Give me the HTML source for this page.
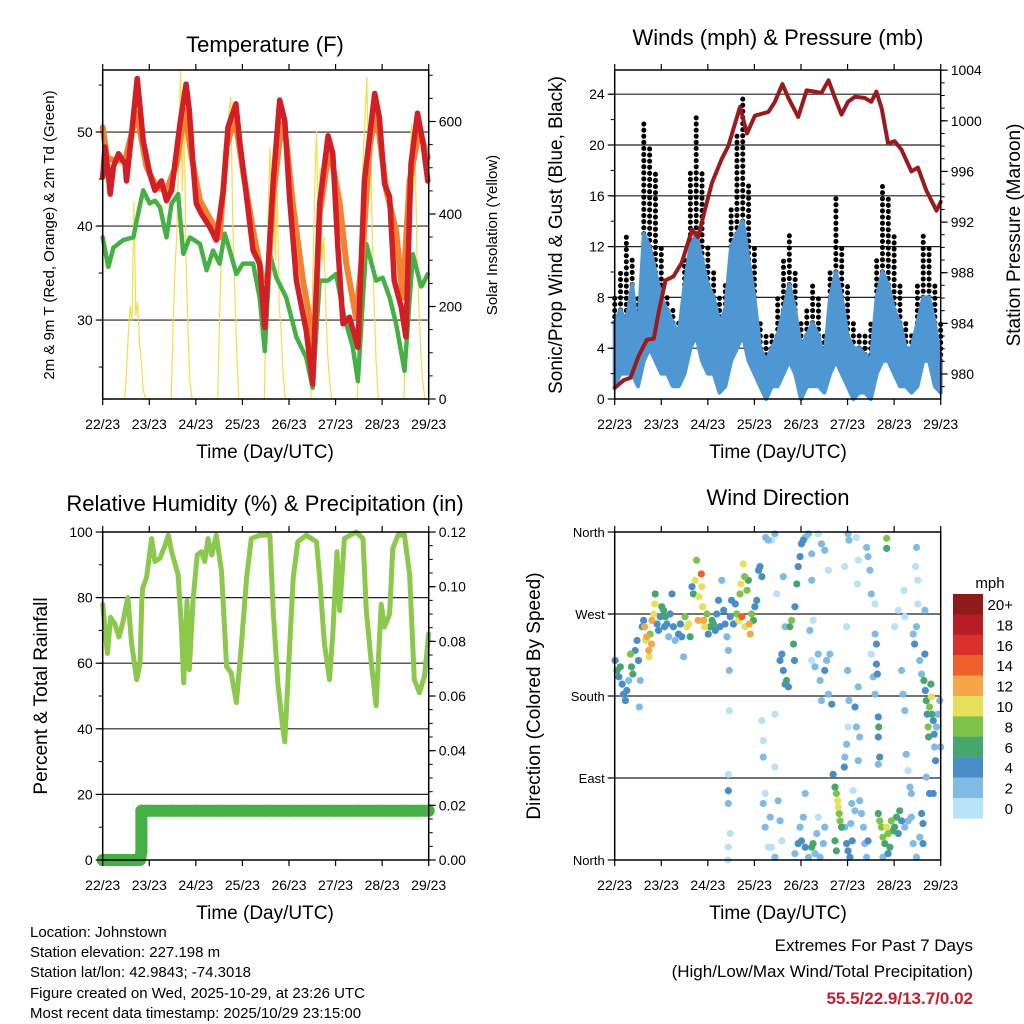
<!DOCTYPE html>
<html><head><meta charset="utf-8">
<style>
html,body{margin:0;padding:0;background:#fff;}
svg{display:block;font-family:"Liberation Sans",Arial,sans-serif;}
</style></head>
<body>
<svg id="chart" width="1024" height="1024" viewBox="0 0 1024 1024" xmlns="http://www.w3.org/2000/svg">
<rect width="1024" height="1024" fill="#fff"/>
<g id="layer-grid"></g>
<g id="layer-data"></g>
<g id="layer-axes"></g>
<g id="layer-text">
<text x="265" y="52" font-size="22" text-anchor="middle">Temperature (F)</text>
<text x="778" y="45" font-size="22" text-anchor="middle">Winds (mph) &amp; Pressure (mb)</text>
<text x="265" y="511" font-size="22" text-anchor="middle">Relative Humidity (%) &amp; Precipitation (in)</text>
<text x="778" y="505" font-size="22" text-anchor="middle">Wind Direction</text>
<text x="265" y="458" font-size="19" text-anchor="middle">Time (Day/UTC)</text>
<text x="778" y="458" font-size="19" text-anchor="middle">Time (Day/UTC)</text>
<text x="265" y="919" font-size="19" text-anchor="middle">Time (Day/UTC)</text>
<text x="778" y="919" font-size="19" text-anchor="middle">Time (Day/UTC)</text>
<text transform="translate(54,235) rotate(-90)" font-size="15" text-anchor="middle">2m &amp; 9m T (Red, Orange) &amp; 2m Td (Green)</text>
<text transform="translate(497,235) rotate(-90)" font-size="15" text-anchor="middle">Solar Insolation (Yellow)</text>
<text transform="translate(562,235) rotate(-90)" font-size="19" text-anchor="middle">Sonic/Prop Wind &amp; Gust (Blue, Black)</text>
<text transform="translate(1020,235) rotate(-90)" font-size="19" text-anchor="middle">Station Pressure (Maroon)</text>
<text transform="translate(47,696) rotate(-90)" font-size="19" text-anchor="middle">Percent &amp; Total Rainfall</text>
<text transform="translate(540,696) rotate(-90)" font-size="19" text-anchor="middle">Direction (Colored By Speed)</text>
<g font-size="15">
<text x="30" y="937">Location: Johnstown</text>
<text x="30" y="957">Station elevation: 227.198 m</text>
<text x="30" y="977">Station lat/lon: 42.9843; -74.3018</text>
<text x="30" y="998">Figure created on Wed, 2025-10-29, at 23:26 UTC</text>
<text x="30" y="1018">Most recent data timestamp: 2025/10/29 23:15:00</text>
</g>
<g font-size="17" text-anchor="end">
<text x="973" y="951">Extremes For Past 7 Days</text>
<text x="973" y="977">(High/Low/Max Wind/Total Precipitation)</text>
<text x="973" y="1004" fill="#c62030" font-weight="bold">55.5/22.9/13.7/0.02</text>
</g>
<text x="990" y="588" font-size="15" text-anchor="middle">mph</text>
</g>
</svg>
<script>
// ---------- DATA ----------
const dayLabels = ["22/23","23/23","24/23","25/23","26/23","27/23","28/23","29/23"];
// Temperature (F)
const t2mTimes = [0,.05,.12,.16,.23,.34,.48,.51,.62,.74,.80,.87,1.01,1.12,1.26,1.37,1.48,1.66,1.79,1.86,1.94,2.01,2.12,2.30,2.44,2.59,2.69,2.86,2.94,3.09,3.23,3.37,3.48,3.55,3.66,3.80,3.91,4.01,4.16,4.37,4.51,4.66,4.84,4.94,5.05,5.16,5.30,5.48,5.62,5.84,5.94,6.05,6.16,6.26,6.41,6.51,6.62,6.76,6.87,6.98];
const t2mVals = [45.2,48.4,45.6,43.4,46.3,47.7,46.6,44.8,49.8,55.7,52.7,49.1,45.6,43.8,44.8,42.7,43.8,50.9,55.1,52.3,46.6,42.4,41.3,39.9,38.5,43.8,50.5,53.0,49.1,43.1,37.4,36.0,29.2,35.3,44.8,53.4,51.2,43.1,34.2,28.9,23.2,42.4,49.6,47.7,37.7,29.6,30.3,27.1,44.8,54.1,51.6,44.5,43.1,34.2,31.4,28.2,46.6,52.0,49.1,44.8];
const t9mTimes = [0,.09,.23,.48,.73,.94,1.16,1.37,1.59,1.76,1.91,2.09,2.37,2.51,2.66,2.84,3.01,3.23,3.44,3.55,3.66,3.84,3.94,4.09,4.30,4.44,4.51,4.66,4.87,5.09,5.23,5.44,5.59,5.73,5.87,6.09,6.30,6.44,6.59,6.80,6.98];
const t9mVals = [50.5,47.3,47.0,47.0,52.0,46.3,44.1,43.8,46.6,52.3,47.3,42.7,40.2,38.8,48.4,51.6,45.9,39.5,34.2,34.5,43.1,50.9,49.1,42.0,34.2,30.3,23.9,41.3,48.4,42.4,36.0,30.3,37.7,48.4,52.3,43.8,39.5,32.4,44.8,50.2,47.3];
const tdTimes = [0,.12,.23,.44,.66,.76,.87,1.01,1.12,1.23,1.37,1.48,1.62,1.73,1.87,2.09,2.23,2.37,2.51,2.62,2.73,2.87,3.01,3.23,3.37,3.48,3.59,3.73,3.94,4.16,4.37,4.51,4.66,4.84,5.01,5.19,5.37,5.48,5.66,5.87,6.01,6.16,6.30,6.48,6.66,6.84,6.98];
const tdVals = [38.8,35.6,37.7,38.5,38.8,41.3,43.8,42.4,42.7,42.0,38.8,42.4,43.4,37.0,38.8,38.1,35.3,37.4,36.0,39.2,37.4,34.9,36.0,36.0,32.4,26.7,37.0,34.5,32.4,28.2,26.0,22.8,34.2,34.2,34.9,30.3,27.1,23.5,38.1,34.2,34.5,32.4,29.6,24.6,37.0,33.5,34.9];
// Solar insolation: daylight fractions and daily values
const solarFracs = [0.47,0.51,0.55,0.59,0.63,0.67,0.71,0.75,0.79,0.83,0.87,0.92];
const solarDays = [
 [0,60,140,200,170,427,180,210,120,80,20,0],
 [0,150,280,350,520,708,450,600,300,150,40,0],
 [0,180,330,450,560,500,620,652,400,250,120,0],
 [0,200,380,543,420,500,300,450,200,150,60,0],
 [0,250,450,578,380,500,300,350,200,100,40,0],
 [0,220,400,520,600,695,480,560,350,200,80,0],
 [0,200,380,500,593,450,520,300,200,100,40,0]];
// Winds (mph), 3-hourly
const windTimes = [0,.125,.25,.375,.5,.625,.75,.875,1,1.125,1.25,1.375,1.5,1.625,1.75,1.875,2,2.125,2.25,2.375,2.5,2.625,2.75,2.875,3,3.125,3.25,3.375,3.5,3.625,3.75,3.875,4,4.125,4.25,4.375,4.5,4.625,4.75,4.875,5,5.125,5.25,5.375,5.5,5.625,5.75,5.875,6,6.125,6.25,6.375,6.5,6.625,6.75,6.875,7];
const windLo = [1,2,2,2,1,3,4,3,2,2,1,1,2,4,5,3,2,2,0.5,1,3,4,5,3,2,1,0,1,1,2,3,2,0,1,1,1,0.5,2,3,2,1,0,0.5,0.5,0,2,3,3,2,1,1,0.5,1,3,3,1,0.5];
const windHi = [6,7,6,9,5,13,12,10,8,7,6,5,9,12,13,11,9,8,6,7,12,13,14,11,8,4,3,4,5,7,9,7,4,5,6,5,3,8,10,8,5,4,4,3.5,3,8,10,9,7,6,4,4,6,8,8,6,3];
const gustHi = [8,10,13,11,8,22,20,18,12,8,7,6,11,18,22.6,18,12,10,8,9,15,21,24,17,12,6,5,5,8,11,13,10,6,7,9,8,5,10,16,12,9,6,5,5,6,11,17,16,13,9,6,5,9,13,12,9,6];
// Pressure (mb)
const presTimes = [0,.19,.34,.51,.69,.84,.94,1.09,1.26,1.44,1.66,1.79,1.94,2.09,2.30,2.44,2.69,2.84,3.01,3.30,3.44,3.60,3.73,3.94,4.12,4.30,4.44,4.59,4.73,4.87,5.01,5.16,5.37,5.51,5.62,5.73,5.87,6.01,6.16,6.37,6.51,6.69,6.91,7.0];
const presVals = [978.9,979.5,979.7,981.4,982.7,982.8,984.8,987.4,987.7,988.8,991.4,990.8,993.0,995.1,997.0,998.0,1001.1,999.0,1000.4,1000.7,1001.5,1002.9,1001.8,1000.3,1002.4,1002.3,1002.2,1003.2,1001.8,1000.5,1001.5,1001.9,1001.8,1001.5,1002.3,1001.0,998.2,998.4,997.7,996.0,996.3,994.5,992.9,993.6];
// Relative humidity (%)
const rhTimes = [0,.10,.17,.26,.35,.44,.54,.62,.73,.80,.84,.86,.94,1.05,1.12,1.23,1.34,1.41,1.48,1.62,1.69,1.74,1.81,1.86,1.94,2.03,2.12,2.19,2.26,2.34,2.44,2.55,2.66,2.76,2.87,2.98,3.09,3.19,3.37,3.59,3.66,3.76,3.87,3.91,3.98,4.09,4.19,4.37,4.59,4.66,4.76,4.87,4.94,5.03,5.09,5.19,5.44,5.59,5.66,5.76,5.87,5.98,6.05,6.16,6.23,6.34,6.48,6.59,6.69,6.80,6.91,7.0];
const rhVals = [78,63,74,72,68,73,80,66,55,60,79,83,86,98,91,92,96,99,94,87,71,54,79,58,79,93,94,91,98,93,99,88,59,57,48,66,86,98,99,99,76,54,40,36,56,86,97,99,97,86,66,55,69,94,76,98,100,98,76,61,47,78,71,75,95,99,99,87,55,51,56,69];
// Precipitation (in)
const precipTimes = [0,.1,.2,.3,.4,.5,.6,.7,.8,.83,.83,.83,.83,.9,1,1.5,2,2.5,3,3.5,4,4.5,5,5.5,6,6.5,7];
const precipVals = [0,0,0,0,0,0,0,0,0,.003,.0075,.0135,.018,.018,.018,.018,.018,.018,.018,.018,.018,.018,.018,.018,.018,.018,.018];
// Wind direction: [day, degrees, speed mph]
const dirObs = [
[.01,219,4],[.05,208,6],[.09,201,4],[.12,212,6],[.16,193,4],[.19,182,4],[.23,175,4],[.26,186,4],[.30,197,2],[.34,226,8],[.36,212,6],[.39,204,6],[.44,230,4],[.48,241,4],[.51,219,4],[.55,197,2],[.53,168,2],[.59,256,4],[.62,263,4],[.64,256,12],[.66,241,10],[.69,245,12],[.73,230,12],[.74,223,10],[.76,248,8],[.79,237,12],[.80,263,12],[.84,270,10],[.86,281,10],[.87,292,6],[.91,259,4],[.94,252,4],[.98,267,4],[1.01,278,6],[1.05,274,6],[1.07,256,4],[1.09,267,6],[1.12,259,4],[1.16,245,2],[1.19,270,4],[1.23,292,4],[1.26,256,4],[1.30,241,2],[1.37,248,4],[1.41,259,4],[1.44,245,4],[1.48,223,2],[1.51,267,8],[1.55,256,10],[1.59,259,10],[1.62,245,6],[1.66,300,4],[1.69,292,6],[1.73,307,10],[1.76,329,8],[1.79,263,12],[1.81,289,10],[1.86,314,14],[1.87,300,10],[1.89,278,10],[1.91,263,12],[1.93,256,10],[1.98,270,8],[2.01,248,4],[2.05,256,6],[2.09,263,6],[2.12,259,6],[2.16,252,4],[2.19,270,4],[2.23,285,4],[2.26,256,4],[2.30,307,2],[2.34,274,4],[2.37,259,4],[2.41,245,2],[2.44,230,2],[2.46,208,2],[2.48,267,4],[2.51,285,4],[2.55,259,4],[2.59,281,4],[2.62,270,8],[2.66,263,10],[2.69,292,8],[2.71,303,10],[2.73,267,14],[2.76,325,10],[2.79,311,8],[2.80,256,10],[2.84,296,8],[2.87,307,6],[2.89,259,12],[2.91,248,12],[2.94,270,8],[2.98,263,6],[3.01,278,4],[3.05,285,4],[3.09,318,4],[3.12,322,4],[3.16,311,4],
[2.44,94,0],[2.44,76,4],[2.44,62,2],[2.44,14,0],[2.46,164,0],[2.48,29,0],[2.43,0,0],
[3.16,153,0],[3.19,131,0],[3.19,113,2],[3.23,73,0],[3.24,354,2],[3.30,351,2],[3.37,351,0],[3.44,358,2],[3.48,292,0],[3.44,160,0],[3.44,102,0],[3.19,62,2],[3.23,36,2],[3.30,14,0],[3.34,47,2],[3.37,14,0],[3.44,3,2],[3.51,65,2],[3.55,43,2],[3.59,21,0],[3.62,311,2],[3.66,256,2],
[3.55,219,4],[3.59,226,4],[3.62,208,4],[3.66,193,4],[3.69,197,6],[3.73,190,4],[3.76,256,6],[3.80,263,8],[3.84,237,6],[3.86,219,4],[3.87,278,4],[3.91,303,6],[3.94,322,4],[3.98,333,4],[4.01,347,4],[4.05,351,4],[4.09,354,2],[4.16,358,2],
[4.23,336,2],[4.23,307,2],[4.26,263,0],[4.19,252,2],[4.23,219,0],[4.30,212,2],[4.37,226,2],[4.41,197,2],[4.44,175,2],[4.51,208,4],[4.55,219,2],[4.59,182,2],[4.62,226,2],[4.66,171,4],[4.44,347,2],[4.51,340,2],[4.59,318,0],[4.37,358,0],
[4.09,73,2],[4.05,47,2],[4.01,21,4],[4.09,14,4],[4.16,3,2],[4.23,14,6],[4.26,18,6],[4.30,7,2],[4.34,29,2],[4.37,47,0],[4.41,3,2],[4.48,18,2],[4.51,36,2],[3.87,7,2],[3.94,18,4],[3.98,36,2],
[4.69,94,4],[4.73,80,6],[4.76,73,8],[4.79,65,10],[4.80,58,10],[4.82,51,8],[4.84,43,8],[4.87,36,6],[4.73,21,6],[4.76,10,6],[4.93,102,4],[4.94,113,2],[4.98,127,2],[5.01,146,0],[4.94,36,2],[4.98,18,4],[5.01,10,4],[5.05,3,4],[5.07,40,2],[5.10,21,4],[5.09,62,2],[5.12,76,0],[5.16,54,2],[5.23,109,2],[5.26,135,2],[5.23,190,2],[5.21,303,0],[5.23,329,0],[5.19,354,0],[5.01,358,2],[5.03,351,2],[4.94,322,0],[4.98,256,0],[5.00,208,2],[5.03,175,2],[5.16,168,4],[5.19,146,2],[5.26,65,2],[5.30,51,2],[5.34,36,2],[5.37,18,2],[5.41,3,2],[5.44,21,4],
[5.41,343,2],[5.44,333,2],[5.48,318,2],[5.51,292,2],[5.59,281,0],[5.59,248,2],[5.62,237,4],[5.62,215,4],[5.64,204,4],[5.66,157,4],[5.67,146,6],[5.66,135,4],[5.69,113,4],[5.66,105,2],[5.59,182,2],[5.55,201,2],[5.51,226,0],
[5.66,51,6],[5.69,43,8],[5.73,36,8],[5.76,25,8],[5.80,18,6],[5.84,36,10],[5.87,29,8],[5.91,14,6],[5.94,43,8],[5.98,32,6],[6.01,36,6],[6.05,47,6],[6.09,29,4],[6.12,54,6],[6.16,43,4],[5.84,353,8],[5.84,342,6],[5.87,7,4],[5.76,3,2],
[6.01,256,0],[6.09,274,0],[6.16,208,2],[6.19,182,2],[6.23,164,2],[6.21,296,0],[6.23,267,0],[6.26,116,2],[6.30,98,0],[6.34,80,2],[6.37,73,2],[6.41,248,2],[6.44,237,4],[6.48,256,2],[6.46,322,0],[6.48,343,2],[6.51,307,0],[6.51,281,0],[6.55,219,2],[6.59,204,2],[6.59,51,4],[6.62,40,4],[6.55,25,2],[6.62,18,4],
[6.66,274,2],[6.66,226,4],[6.64,197,6],[6.67,186,4],[6.69,175,6],[6.71,160,4],[6.73,146,8],[6.74,135,6],[6.76,168,8],[6.79,193,6],[6.80,179,10],[6.81,160,6],[6.84,153,4],[6.86,138,4],[6.87,124,2],[6.89,109,4],[6.91,146,2],[6.94,160,2],[6.98,175,2],[7.0,124,2],[6.84,73,4],[6.76,73,4],[6.69,91,2],[6.48,3,2],[6.41,18,2],[6.37,47,2],[6.30,43,2],[6.23,36,2]];
const legendLabels = ["20+","18","16","14","12","10","8","6","4","2","0"];
const legendColors = ["#8e1a1c","#b71d25","#d7312a","#ee5f2c","#f6a646","#e6e05c","#7dc24b","#47a66e","#4a8ec7","#80bbe5","#b7e2f7"];

// ---------- SCALES ----------
const NS = "http://www.w3.org/2000/svg";
const gGrid = document.getElementById("layer-grid");
const gData = document.getElementById("layer-data");
const gAxes = document.getElementById("layer-axes");
function mk(tag, attrs, parent){const e=document.createElementNS(NS,tag);for(const k in attrs)e.setAttribute(k,attrs[k]);parent.appendChild(e);return e;}
const P = {
  temp:{x0:102.7,y0:70,x1:428.7,y1:399},
  wind:{x0:614.7,y0:70,x1:940.7,y1:399},
  rh:{x0:102.7,y0:532,x1:428.7,y1:860},
  dir:{x0:614.7,y0:532,x1:940.7,y1:860}
};
function xs(p,t){return p.x0+t*(p.x1-p.x0)/7;}
const yT=v=>399-(v-21.6)*9.4;
const yS=v=>399-v*0.4625;
const yW=v=>399-v*12.7;
const yP=v=>374-(v-980)*12.66;
const yR=v=>860-v*3.28;
const yPr=v=>860-v*2733;
const yD=v=>860-v*0.9111;

// ---------- GRIDS / AXES ----------
function hgrid(p,ys,name){ys.forEach(y=>{const l=mk("line",{x1:p.x0,x2:p.x1,y1:y,y2:y,stroke:"#222","stroke-width":1.2},gGrid);});}
hgrid(P.temp,[30,40,50].map(yT),"temperature-gridline");
hgrid(P.wind,[4,8,12,16,20,24].map(yW),"wind-gridline");
hgrid(P.rh,[20,40,60,80].map(yR),"humidity-gridline");
hgrid(P.dir,[90,180,270].map(yD),"direction-gridline");

function frame(p,name){const r=mk("rect",{x:p.x0,y:p.y0,width:p.x1-p.x0,height:p.y1-p.y0,fill:"none",stroke:"#000","stroke-width":1.5},gAxes);}
function xaxis(p,name){
  for(let d=0;d<=7;d++){const x=xs(p,d);
    mk("line",{x1:x,x2:x,y1:p.y1,y2:p.y1+6,stroke:"#000","stroke-width":1.2},gAxes);
    mk("line",{x1:x,x2:x,y1:p.y0,y2:p.y0-6,stroke:"#000","stroke-width":1.2},gAxes);
    const t=mk("text",{x:x,y:p.y1+30,"font-size":14,"text-anchor":"middle"},gAxes);t.textContent=dayLabels[d];
    }
}
function yaxis(p,side,vals,fy,labels,minor,name,fs){
  const x=side==="l"?p.x0:p.x1;const dir=side==="l"?-1:1;
  minor.forEach(v=>mk("line",{x1:x,x2:x+dir*4,y1:fy(v),y2:fy(v),stroke:"#000","stroke-width":1},gAxes));
  vals.forEach((v,i)=>{const y=fy(v);mk("line",{x1:x,x2:x+dir*7,y1:y,y2:y,stroke:"#000","stroke-width":1.2},gAxes);
    const t=mk("text",{x:x+dir*10,y:y+5,"font-size":fs||14,"text-anchor":side==="l"?"end":"start"},gAxes);t.textContent=labels[i];
    });
}
function range(a,b,s){const r=[];for(let v=a;v<=b+1e-9;v+=s)r.push(+v.toFixed(4));return r;}
Object.keys(P).forEach(k=>{frame(P[k],k+"-plot-frame");xaxis(P[k],k+"-x-axis");});
yaxis(P.temp,"l",[30,40,50],yT,["30","40","50"],range(25,55,5),"temperature-y-axis");
yaxis(P.temp,"r",[0,200,400,600],yS,["0","200","400","600"],range(0,700,50),"solar-y-axis");
yaxis(P.wind,"l",[0,4,8,12,16,20,24],yW,["0","4","8","12","16","20","24"],range(0,24,2),"wind-y-axis");
yaxis(P.wind,"r",[980,984,988,992,996,1000,1004],yP,["980","984","988","992","996","1000","1004"],range(979,1004,1),"pressure-y-axis");
yaxis(P.rh,"l",[0,20,40,60,80,100],yR,["0","20","40","60","80","100"],range(0,100,10),"humidity-y-axis");
yaxis(P.rh,"r",[0,.02,.04,.06,.08,.10,.12],yPr,["0.00","0.02","0.04","0.06","0.08","0.10","0.12"],range(0,.12,.005),"precip-y-axis");
yaxis(P.dir,"l",[0,90,180,270,360],yD,["North","East","South","West","North"],[],"direction-y-axis",13);

// ---------- SERIES ----------
function polyline(p,times,vals,fy,color,w,name){
  const pts=times.map((t,i)=>xs(p,t).toFixed(1)+","+fy(vals[i]).toFixed(1)).join(" ");
  const l=mk("polyline",{points:pts,fill:"none",stroke:color,"stroke-width":w,"stroke-linejoin":"round","stroke-linecap":"round"},gData);
  return l;
}
// Solar
const solT=[0],solV=[0];
solarDays.forEach((arr,d)=>arr.forEach((v,i)=>{solT.push(d+solarFracs[i]);solV.push(v);}));
solT.push(7);solV.push(0);
polyline(P.temp,solT,solV,yS,"#f7dc4a",1.2,"solar-insolation-line");
polyline(P.temp,tdTimes,tdVals,yT,"#45b043",4.5,"dewpoint-line").setAttribute("stroke-dasharray","3 1.5");
polyline(P.temp,t9mTimes,t9mVals,yT,"#f38230",6,"temperature-9m-line");
polyline(P.temp,t2mTimes,t2mVals,yT,"#d21f26",5.5,"temperature-2m-line");

// Wind: gust dots and sustained band
windTimes.forEach((t,i)=>{
  const x=xs(P.wind,t);
  const g=mk("line",{x1:x,x2:x,y1:yW(windHi[i]),y2:yW(gustHi[i]),stroke:"#000","stroke-width":5,"stroke-linecap":"round","stroke-dasharray":"0.1 6"},gData);
  
  
});
const bandPts = windTimes.map((t,i)=>xs(P.wind,t).toFixed(1)+","+yW(windHi[i]).toFixed(1))
  .concat(windTimes.slice().reverse().map((t,j)=>{const i=windTimes.length-1-j;return xs(P.wind,t).toFixed(1)+","+yW(windLo[i]).toFixed(1);})).join(" ");
const band=mk("polygon",{points:bandPts,fill:"#4f97d2",stroke:"#4f97d2","stroke-width":4,"stroke-linejoin":"round"},gData);


polyline(P.wind,presTimes,presVals,yP,"#9b1b1d",4,"pressure-line");

// RH & precip
polyline(P.rh,rhTimes,rhVals,yR,"#8cc84b",5,"relative-humidity-line");
precipTimes.forEach((t,i)=>{
  const c=mk("circle",{cx:xs(P.rh,t),cy:yPr(precipVals[i]),r:6,fill:"#45b043"},gData);
  
  
});
polyline(P.rh,precipTimes,precipVals,yPr,"#45b043",12,"precip-line");

// Wind direction scatter
function spdColor(s){let idx=Math.min(10,Math.floor(s/2));return legendColors[10-idx];}
dirObs.slice().sort((a,b)=>a[2]-b[2]).forEach(o=>{
  const c=mk("circle",{cx:xs(P.dir,o[0]),cy:yD(o[1]),r:3.6,fill:spdColor(o[2])},gData);
  
  
});
// Legend
legendLabels.forEach((lab,i)=>{
  const y=594+i*20.4;
  const r=mk("rect",{x:953,y:y,width:30,height:20.6,fill:legendColors[i]},gAxes);
  
  
  const t=mk("text",{x:1013,y:y+16,"font-size":15,"text-anchor":"end"},gAxes);t.textContent=lab;
  
  
});
</script>
</body></html>
